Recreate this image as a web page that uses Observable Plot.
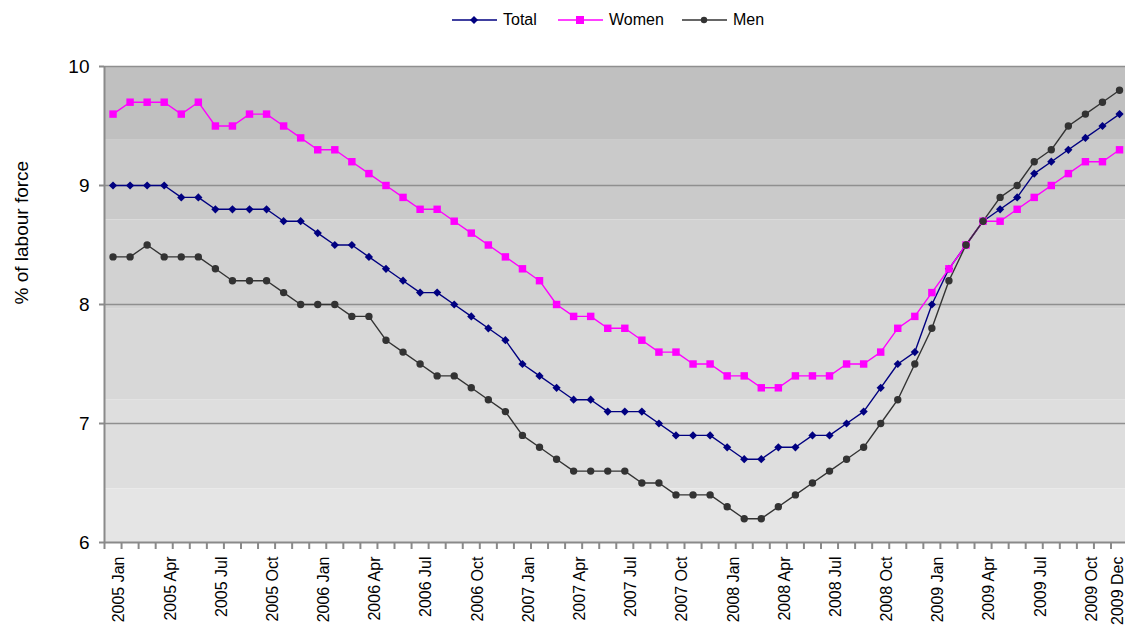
<!DOCTYPE html>
<html>
<head>
<meta charset="utf-8">
<script src="https://cdn.jsdelivr.net/npm/d3@7"></script>
<script src="https://cdn.jsdelivr.net/npm/@observablehq/plot@0.6"></script>
<style>
  html, body { margin: 0; padding: 0; background: #fff; }
  body { width: 1125px; height: 627px; overflow: hidden; font-family: "Liberation Sans", Arial, sans-serif; }
  #legend { position: relative; height: 40px; }
  .item { position: absolute; top: 10px; display: flex; align-items: center; font-size: 16px; color: #000; }
  .item svg { margin-right: 6px; }
</style>
</head>
<body>
<div id="legend"></div>
<div id="chart"></div>
<script>
// ---- data (unemployment, % of labour force, monthly 2005 Jan – 2009 Dec) ----
const years = [2005, 2006, 2007, 2008, 2009];
const monthNames = ["Jan","Feb","Mar","Apr","May","Jun","Jul","Aug","Sep","Oct","Nov","Dec"];

const total = [
  9.0,9.0,9.0,9.0,8.9,8.9,8.8,8.8,8.8,8.8,8.7,8.7,
  8.6,8.5,8.5,8.4,8.3,8.2,8.1,8.1,8.0,7.9,7.8,7.7,
  7.5,7.4,7.3,7.2,7.2,7.1,7.1,7.1,7.0,6.9,6.9,6.9,
  6.8,6.7,6.7,6.8,6.8,6.9,6.9,7.0,7.1,7.3,7.5,7.6,
  8.0,8.3,8.5,8.7,8.8,8.9,9.1,9.2,9.3,9.4,9.5,9.6
];
const women = [
  9.6,9.7,9.7,9.7,9.6,9.7,9.5,9.5,9.6,9.6,9.5,9.4,
  9.3,9.3,9.2,9.1,9.0,8.9,8.8,8.8,8.7,8.6,8.5,8.4,
  8.3,8.2,8.0,7.9,7.9,7.8,7.8,7.7,7.6,7.6,7.5,7.5,
  7.4,7.4,7.3,7.3,7.4,7.4,7.4,7.5,7.5,7.6,7.8,7.9,
  8.1,8.3,8.5,8.7,8.7,8.8,8.9,9.0,9.1,9.2,9.2,9.3
];
const men = [
  8.4,8.4,8.5,8.4,8.4,8.4,8.3,8.2,8.2,8.2,8.1,8.0,
  8.0,8.0,7.9,7.9,7.7,7.6,7.5,7.4,7.4,7.3,7.2,7.1,
  6.9,6.8,6.7,6.6,6.6,6.6,6.6,6.5,6.5,6.4,6.4,6.4,
  6.3,6.2,6.2,6.3,6.4,6.5,6.6,6.7,6.8,7.0,7.2,7.5,
  7.8,8.2,8.5,8.7,8.9,9.0,9.2,9.3,9.5,9.6,9.7,9.8
];
const labeledMonths = ["2005 Jan","2005 Apr","2005 Jul","2005 Oct","2006 Jan","2006 Apr","2006 Jul","2006 Oct",
  "2007 Jan","2007 Apr","2007 Jul","2007 Oct","2008 Jan","2008 Apr","2008 Jul","2008 Oct",
  "2009 Jan","2009 Apr","2009 Jul","2009 Oct","2009 Dec"];
const yTicks = [6, 7, 8, 9, 10];
const gridValues = [7, 8, 9, 10];
const bandEdges = [10, 9.38, 8.71, 7.96, 7.20, 6.45, 6];
const bandColors = ["#c0c0c0", "#cacaca", "#d2d2d2", "#d8d8d8", "#dedede", "#e5e5e5"];

const seriesNames = ["Total", "Women", "Men"];
const seriesColors = ["#000080", "#ff00ff", "#333333"];
const seriesSymbols = ["diamond2", "square", "circle"];
const seriesValues = [total, women, men];

// ---- derived tables ----
const categories = years.flatMap(y => monthNames.map(m => `${y} ${m}`));
const rows = seriesNames.flatMap((s, si) =>
  seriesValues[si].map((v, i) => ({series: s, i, value: v})));
const bands = bandColors.map((c, k) => ({y1: bandEdges[k], y2: bandEdges[k + 1], fill: c}));
const labelIdx = labeledMonths.map(l => categories.indexOf(l));
const mainLabelIdx = labelIdx.slice(0, -1);
const lastLabelIdx = labelIdx.slice(-1);
const boundaries = d3.range(categories.length + 1).map(i => i - 0.5);

const labelOpts = {tickSize: 0, tickPadding: 14, rotate: -90, textAnchor: "end", fontSize: 16, fill: "#000",
                   tickFormat: i => categories[i], label: null};

const marks = [
  Plot.rect(bands, {y1: "y1", y2: "y2", fill: "fill"}),
  Plot.ruleY(gridValues, {stroke: "#8f8f8f", strokeWidth: 1.6}),
  Plot.ruleY([6], {stroke: "#8a8a8a", strokeWidth: 2}),
  Plot.ruleX([-0.5], {stroke: "#8a8a8a", strokeWidth: 2}),
  Plot.axisY({ticks: yTicks, tickSize: 5, tickPadding: 10, fontSize: 19, stroke: "#8a8a8a", strokeWidth: 2, fill: "#000", tickFormat: d3.format("d"), label: null}),
  Plot.axisX({ticks: boundaries, tickSize: 7, tickFormat: () => "", stroke: "#8a8a8a", strokeWidth: 2, label: null}),
  Plot.axisX({ticks: mainLabelIdx, ...labelOpts}),
  Plot.axisX({ticks: lastLabelIdx, ...labelOpts, dx: -8}),
  Plot.text(["% of labour force"], {frameAnchor: "left", dx: -83, rotate: -90, fontSize: 19, fill: "#000"})
];
seriesNames.forEach((s, si) => {
  const d = rows.filter(r => r.series === s);
  marks.push(Plot.line(d, {x: "i", y: "value", stroke: seriesColors[si], strokeWidth: 1.4}));
});
seriesNames.forEach((s, si) => {
  const d = rows.filter(r => r.series === s);
  marks.push(Plot.dot(d, {x: "i", y: "value", symbol: () => seriesSymbols[si], fill: seriesColors[si], stroke: "none",
    r: si === 1 ? 4.2 : 3.7}));
});

const chart = Plot.plot({
  width: 1125,
  height: 587,
  marginLeft: 104,
  marginRight: 0,
  marginTop: 26,
  marginBottom: 85,
  style: {fontFamily: "'Liberation Sans', Arial, sans-serif", background: "transparent", overflow: "visible"},
  x: {type: "linear", domain: [-0.5, 59.35]},
  y: {domain: [6, 10]},
  symbol: {type: "identity"},
  marks
});
document.getElementById("chart").appendChild(chart);

// ---- legend ----
const legendX = [452, 558, 682];
const legend = document.getElementById("legend");
seriesNames.forEach((s, si) => {
  const item = document.createElement("div");
  item.className = "item";
  item.style.left = legendX[si] + "px";
  const c = seriesColors[si];
  let marker;
  if (seriesSymbols[si] === "square") marker = `<rect x="18" y="6" width="8" height="8" fill="${c}"/>`;
  else if (seriesSymbols[si] === "diamond2") marker = `<path d="M22 6 L26 10 L22 14 L18 10 Z" fill="${c}"/>`;
  else marker = `<circle cx="22" cy="10" r="3.2" fill="${c}"/>`;
  item.innerHTML = `<svg width="45" height="20"><line x1="0" y1="10" x2="45" y2="10" stroke="${c}" stroke-width="1.6"/>${marker}</svg><span>${s}</span>`;
  legend.appendChild(item);
});
</script>
</body>
</html>
